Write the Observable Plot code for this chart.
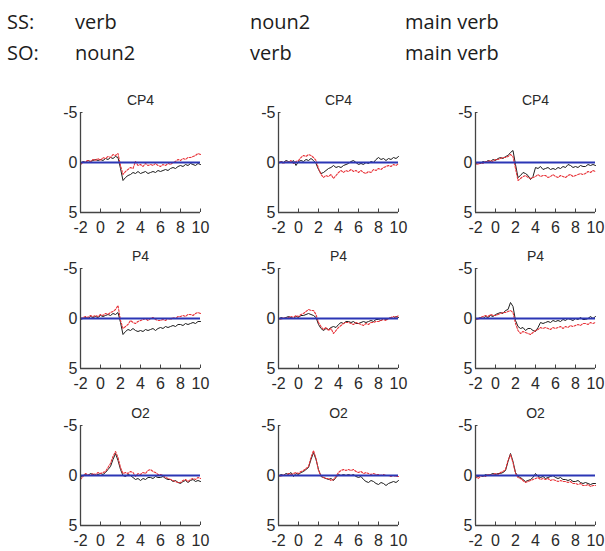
<!DOCTYPE html>
<html>
<head>
<meta charset="utf-8">
<script src="https://cdn.jsdelivr.net/npm/d3@7"></script>
<script src="https://cdn.jsdelivr.net/npm/@observablehq/plot@0.6"></script>
<style>
  html, body { margin: 0; padding: 0; background: #fff; overflow: hidden; }
  #root { position: relative; width: 605px; height: 551px; }
  .hdr { position: absolute; font-family: "Open Sans", "Liberation Sans", sans-serif; font-size: 20px; color: #1c1c1c; line-height: 1; white-space: nowrap; }
  .panel { position: absolute; }
</style>
</head>
<body>
<div id="root"></div>
<script>
// ---------- data ----------
const rowLabels = ["SS:", "SO:"];
const ssLabels = ["verb", "noun2", "main verb"];
const soLabels = ["noun2", "verb", "main verb"];
const electrodes = ["CP4", "P4", "O2"];
const xTicks = [-2, 0, 2, 4, 6, 8, 10];
const yTicks = [-5, 0, 5];

const times = [-2, -1.75, -1.5, -1.25, -1, -0.75, -0.5, -0.25, 0, 0.25, 0.5, 0.75, 1, 1.25, 1.5, 1.75,
  2, 2.25, 2.5, 2.75, 3, 3.25, 3.5, 3.75, 4, 4.25, 4.5, 4.75, 5, 5.25, 5.5, 5.75,
  6, 6.25, 6.5, 6.75, 7, 7.25, 7.5, 7.75, 8, 8.25, 8.5, 8.75, 9, 9.25, 9.5, 9.75, 10];

// CP4
const cp4_c1_black = [0.1,-0.1,0.0,-0.2,-0.1,-0.2,-0.3,-0.2,-0.3,-0.2,-0.4,-0.3,-0.5,-0.4,-0.6,-0.5,0.6,1.8,1.5,1.3,1.2,1.0,1.1,0.9,1.1,1.0,0.9,1.1,1.0,0.9,1.0,0.8,0.9,0.8,0.7,0.8,0.6,0.5,0.6,0.4,0.3,0.4,0.2,0.3,0.1,0.2,0.3,0.1,0.2];
const cp4_c1_red = [0.2,0.0,-0.1,-0.2,-0.1,-0.3,-0.2,-0.4,-0.2,-0.5,-0.4,-0.6,-0.5,-0.8,-0.7,-0.9,0.3,1.2,0.9,0.7,0.5,0.6,-0.1,0.3,0.2,0.4,0.1,0.3,0.2,0.3,0.1,0.3,0.4,0.2,0.3,0.1,0.2,0.0,-0.1,-0.3,-0.2,-0.4,-0.3,-0.5,-0.5,-0.6,-0.7,-0.9,-0.8];
const cp4_c2_black = [0.1,-0.1,0.0,-0.2,-0.1,0.0,-0.2,0.3,-0.1,-0.2,-0.1,-0.3,-0.2,-0.4,-0.2,0.1,0.7,1.1,1.0,0.8,0.6,0.5,0.3,0.5,0.4,0.5,0.3,0.2,0.1,-0.1,-0.2,0.0,0.2,0.1,0.2,0.0,0.1,-0.1,0.0,-0.3,-0.5,-0.3,-0.4,-0.2,-0.4,-0.3,-0.5,-0.4,-0.6];
const cp4_c2_red = [0.0,-0.1,0.1,-0.1,0.0,-0.2,0.1,-0.1,-0.2,-0.5,-0.7,-0.6,-0.8,-0.7,-0.5,-0.2,0.6,1.2,1.5,1.3,1.4,1.2,1.6,1.3,1.0,0.8,1.0,0.8,0.9,0.7,0.9,0.8,1.0,0.8,1.0,1.1,0.9,1.0,0.7,0.8,0.6,0.7,0.5,0.4,0.3,0.4,0.2,0.3,0.1];
const cp4_c3_black = [0.2,0.0,0.1,-0.1,0.0,-0.2,-0.1,-0.3,-0.2,-0.4,-0.5,-0.4,-0.6,-0.7,-1.0,-1.2,0.2,1.5,1.3,1.0,1.1,1.3,1.7,1.4,0.5,0.6,0.4,0.7,0.6,0.5,0.7,0.6,0.7,0.5,0.6,0.4,0.5,0.2,0.3,0.5,0.4,0.5,0.3,0.4,0.4,0.2,0.3,0.2,0.3];
const cp4_c3_red = [0.1,0.2,0.0,0.1,-0.1,-0.1,-0.2,-0.1,-0.3,-0.3,-0.4,-0.5,-0.5,-0.6,-0.8,-0.6,0.6,1.8,1.6,1.4,1.3,1.5,1.6,1.5,1.4,1.2,1.4,1.3,1.3,1.5,1.4,1.2,1.4,1.5,1.3,1.4,1.5,1.3,1.2,1.4,1.3,1.2,1.1,1.2,1.1,0.9,1.0,0.8,0.9];
// P4
const p4_c1_black = [0.1,0.0,-0.1,0.0,-0.2,-0.1,-0.2,-0.1,-0.3,-0.2,-0.3,-0.4,-0.3,-0.5,-0.4,-0.6,0.4,1.6,1.3,1.1,1.2,1.0,1.2,1.3,1.2,1.3,1.1,1.2,1.1,1.0,1.2,1.0,0.9,1.0,0.8,0.9,0.8,0.7,0.8,0.6,0.6,0.7,0.5,0.6,0.5,0.4,0.5,0.3,0.3];
const p4_c1_red = [0.0,-0.1,-0.2,-0.1,-0.3,-0.2,-0.3,-0.2,-0.4,-0.3,-0.5,-0.4,-0.6,-0.7,-0.9,-1.3,0.2,1.0,0.8,0.6,0.2,0.4,0.5,0.3,0.2,0.1,0.0,0.2,0.0,-0.1,0.1,0.2,0.2,0.1,0.2,0.0,0.1,-0.1,0.0,-0.2,-0.2,-0.3,-0.2,-0.4,-0.4,-0.3,-0.5,-0.6,-0.5];
const p4_c2_black = [0.1,-0.1,0.0,-0.1,-0.2,-0.1,0.0,-0.2,-0.1,-0.3,-0.3,-0.4,-0.5,-0.4,-0.3,-0.1,0.6,1.0,1.2,1.0,1.1,0.9,0.8,0.9,0.6,0.4,0.5,0.3,0.3,0.4,0.3,0.5,0.5,0.4,0.3,0.4,0.3,0.2,0.3,0.1,0.1,0.2,0.0,0.1,0.0,-0.1,0.0,-0.2,-0.1];
const p4_c2_red = [0.0,0.1,-0.1,0.0,-0.1,-0.2,-0.1,-0.3,-0.2,-0.4,-0.5,-0.7,-0.9,-0.8,-0.8,-0.4,0.4,0.8,1.1,0.9,1.2,1.0,1.5,1.2,0.9,0.7,0.5,0.4,0.4,0.5,0.6,0.4,0.5,0.6,0.7,0.5,0.6,0.4,0.4,0.3,0.3,0.2,0.1,0.2,0.0,-0.1,-0.2,-0.1,-0.3];
const p4_c3_black = [0.1,0.0,-0.1,0.0,-0.2,-0.1,-0.3,-0.2,-0.4,-0.5,-0.6,-0.5,-0.8,-0.9,-1.6,-1.2,0.2,0.8,1.0,0.9,1.2,1.0,1.0,1.2,1.3,0.9,0.4,0.5,0.4,0.3,0.4,0.2,0.3,0.2,0.3,0.1,0.2,0.0,0.1,0.2,0.0,0.1,-0.1,0.1,0.1,0.0,-0.2,0.0,-0.2];
const p4_c3_red = [0.0,0.1,-0.1,-0.2,-0.3,-0.2,-0.4,-0.3,-0.3,-0.4,-0.5,-0.6,-0.6,-0.7,-0.8,-0.6,0.5,1.2,1.5,1.3,1.4,1.5,1.6,1.4,1.2,1.1,0.9,1.0,0.9,1.0,1.1,0.9,1.0,0.9,0.8,1.0,0.8,0.9,0.7,0.8,0.7,0.6,0.7,0.5,0.5,0.6,0.4,0.5,0.4];
// O2
const o2_c1_black = [0.2,0.0,-0.1,0.0,-0.2,-0.1,0.0,-0.1,-0.2,-0.1,-0.3,-0.6,-0.9,-1.6,-2.2,-1.5,-0.6,0.0,0.1,-0.1,0.0,0.2,0.4,0.3,0.5,0.3,0.4,0.2,0.2,0.3,0.1,0.2,0.2,0.1,0.3,0.4,0.4,0.6,0.5,0.7,0.8,0.6,0.5,0.7,0.5,0.4,0.6,0.5,0.6];
const o2_c1_red = [0.4,0.1,-0.2,-0.1,0.0,-0.2,-0.1,-0.3,-0.2,-0.3,-0.4,-0.8,-1.2,-1.9,-2.4,-1.8,-0.8,-0.2,-0.3,-0.2,-0.4,-0.3,0.1,-0.2,-0.1,-0.3,-0.2,-0.5,-0.6,-0.4,-0.3,-0.1,-0.1,0.0,0.2,0.3,0.4,0.5,0.6,0.7,0.7,0.5,0.4,0.6,0.4,0.3,0.4,0.2,0.3];
const o2_c2_black = [0.1,-0.1,0.0,-0.2,-0.1,-0.3,0.1,-0.2,-0.1,-0.3,-0.4,-0.6,-0.8,-1.6,-2.3,-1.6,-0.6,0.1,0.2,0.3,0.4,0.3,0.5,0.2,-0.1,0.0,-0.1,0.0,-0.1,0.0,-0.1,0.1,0.2,0.1,0.4,0.6,0.7,0.5,0.6,0.8,0.9,0.7,0.8,1.0,0.8,0.7,0.6,0.7,0.5];
const o2_c2_red = [0.0,0.1,-0.1,0.0,-0.2,-0.1,-0.2,-0.3,-0.2,-0.4,-0.5,-0.7,-0.9,-1.8,-2.5,-1.7,-0.5,0.0,0.2,0.3,0.3,0.5,0.4,0.1,-0.3,-0.5,-0.6,-0.5,-0.6,-0.5,-0.6,-0.4,-0.3,-0.4,-0.2,-0.3,-0.2,-0.1,-0.2,-0.1,-0.1,0.0,-0.1,0.0,0.0,0.1,0.0,0.1,0.1];
const o2_c3_black = [0.2,0.1,0.0,0.1,-0.1,0.0,-0.1,-0.2,-0.1,-0.2,-0.2,-0.3,-0.5,-1.4,-2.2,-1.4,-0.3,0.1,0.2,0.4,0.6,0.5,0.4,0.2,-0.2,0.1,0.2,0.1,0.3,0.2,0.1,0.0,0.2,0.3,0.2,0.4,0.4,0.5,0.4,0.6,0.6,0.5,0.7,0.8,0.7,0.8,0.9,0.8,0.8];
const o2_c3_red = [0.1,0.3,0.1,0.0,0.1,-0.1,0.0,-0.1,-0.2,-0.1,-0.3,-0.4,-0.6,-1.5,-2.1,-1.3,-0.2,0.2,0.3,0.5,0.7,0.6,0.5,0.4,0.3,0.2,0.4,0.3,0.4,0.3,0.5,0.4,0.5,0.6,0.5,0.6,0.6,0.7,0.6,0.8,0.8,0.9,0.8,1.0,1.0,0.9,1.1,1.0,1.0];

const blackSeries = [
  [cp4_c1_black, cp4_c2_black, cp4_c3_black],
  [p4_c1_black, p4_c2_black, p4_c3_black],
  [o2_c1_black, o2_c2_black, o2_c3_black]
];
const redSeries = [
  [cp4_c1_red, cp4_c2_red, cp4_c3_red],
  [p4_c1_red, p4_c2_red, p4_c3_red],
  [o2_c1_red, o2_c2_red, o2_c3_red]
];

// ---------- layout ----------
const root = document.getElementById("root");
const colLeft = [50, 248, 445];
const rowTop = [82, 238, 395];
const headerX = [7, 75, 250, 405];
const headerY = [12, 43];

function addText(txt, x, y) {
  const d = document.createElement("div");
  d.className = "hdr";
  d.textContent = txt;
  d.style.left = x + "px";
  d.style.top = y + "px";
  root.appendChild(d);
}
rowLabels.forEach((r, i) => addText(r, headerX[0], headerY[i]));
ssLabels.forEach((s, j) => addText(s, headerX[j + 1], headerY[0]));
soLabels.forEach((s, j) => addText(s, headerX[j + 1], headerY[1]));

const fmt = d => String(d);

function panel(black, red, title, mr) {
  const bd = times.map((t, i) => ({t, v: black[i]}));
  const rd = times.map((t, i) => ({t, v: red[i]}));
  return Plot.plot({
    width: 30 + 120 + mr,
    height: 30 + 100 + 26,
    marginLeft: 30,
    marginRight: mr,
    marginTop: 30,
    marginBottom: 26,
    style: {fontFamily: "'Liberation Sans', Arial, sans-serif", fontSize: "16px", color: "#2a2a2a", background: "transparent", overflow: "visible"},
    x: {domain: [-2, 10], ticks: xTicks, tickFormat: fmt, tickSize: 0, tickPadding: 9, label: null},
    y: {domain: [-5, 5], reverse: true, ticks: yTicks, tickFormat: fmt, tickSize: 0, tickPadding: 3, label: null},
    marks: [
      Plot.ruleX(xTicks, {y1: 5, y2: 4.65, stroke: "#444", strokeWidth: 1}),
      Plot.ruleY(yTicks, {x1: -2, x2: -1.75, stroke: "#444", strokeWidth: 1}),
      Plot.line(bd, {x: "t", y: "v", stroke: "#1e1e1e", strokeWidth: 1}),
      Plot.line(rd, {x: "t", y: "v", stroke: "#e8343a", strokeWidth: 1.1, strokeDasharray: "2,1.5"}),
      Plot.ruleY([0], {x1: -2, x2: 10, stroke: "#2b36b5", strokeWidth: 1.8}),
      Plot.ruleX([-2], {y1: -5, y2: 5, stroke: "#444", strokeWidth: 1.3}),
      Plot.ruleY([5], {x1: -2, x2: 10, stroke: "#444", strokeWidth: 1.3}),
      Plot.text([title], {frameAnchor: "top", dy: -17, fontSize: 14, fill: "#2a2a2a"})
    ]
  });
}

for (let r = 0; r < 3; r++) {
  for (let c = 0; c < 3; c++) {
    const mr = c === 2 ? 10 : 15;
    const el = panel(blackSeries[r][c], redSeries[r][c], electrodes[r], mr);
    const wrap = document.createElement("div");
    wrap.className = "panel";
    wrap.style.left = colLeft[c] + "px";
    wrap.style.top = rowTop[r] + "px";
    wrap.appendChild(el);
    root.appendChild(wrap);
  }
}
</script>
</body>
</html>
